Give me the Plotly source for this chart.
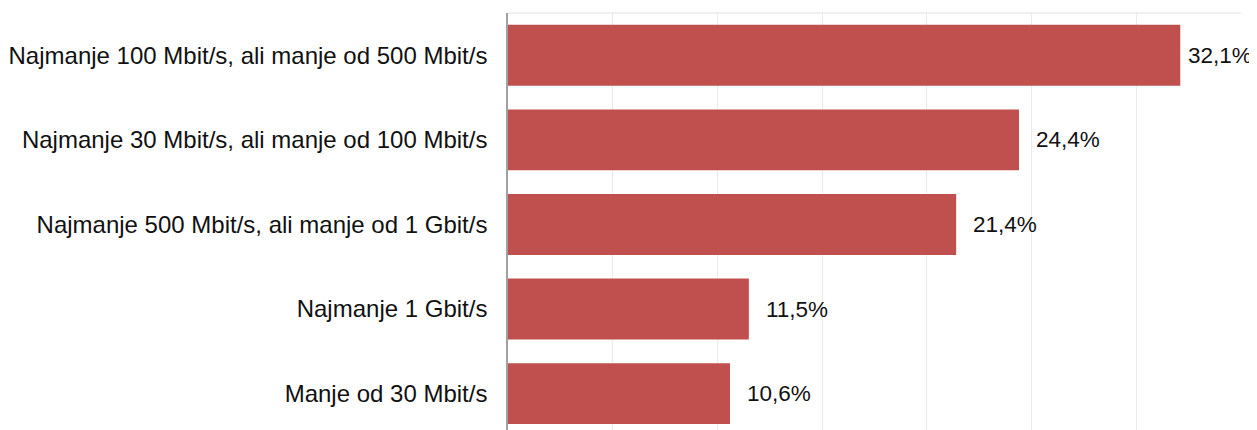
import plotly.graph_objects as go

categories = [
    "Najmanje 100 Mbit/s, ali manje od 500 Mbit/s",
    "Najmanje 30 Mbit/s, ali manje od 100 Mbit/s",
    "Najmanje 500 Mbit/s, ali manje od 1 Gbit/s",
    "Najmanje 1 Gbit/s",
    "Manje od 30 Mbit/s",
]
values = [32.1, 24.4, 21.4, 11.5, 10.6]
labels = [f"{v:.1f}%".replace(".", ",") for v in values]

FONT = "Liberation Sans, Arial, sans-serif"

fig = go.Figure(go.Bar(
    x=values, y=categories, orientation="h",
    marker=dict(color="#C0504D", line=dict(width=0)),
    hoverinfo="skip",
))

vmax = max(values)
for c, v, t in zip(categories, values, labels):
    fig.add_annotation(
        x=v, y=c, text=t, showarrow=False, xanchor="left", yanchor="middle",
        xshift=(6 if v == vmax else 15),
        font=dict(family=FONT, size=22.5, color="#111111"),
    )

fig.add_shape(type="line", xref="paper", yref="paper", x0=0, x1=1, y0=1, y1=1,
              line=dict(color="#ebebeb", width=1.5), layer="below")

fig.update_layout(
    width=1249, height=422,
    margin=dict(l=500, r=16, t=5, b=0, pad=0),
    paper_bgcolor="white", plot_bgcolor="white",
    bargap=0.28,
    showlegend=False,
    font=dict(family=FONT, size=24, color="#111111"),
    xaxis=dict(range=[0, 35], dtick=5, showticklabels=False, showgrid=True,
               gridcolor="#ebebeb", gridwidth=1, zeroline=False, showline=False,
               fixedrange=True),
    yaxis=dict(categoryorder="array", categoryarray=categories,
               range=[4.43, -0.5], showgrid=False, zeroline=False,
               showline=True, linecolor="#a0a0a0", linewidth=1.5,
               ticks="", ticklabelstandoff=14,
               tickfont=dict(family=FONT, size=24, color="#111111")),
)

fig.write_html("out.html")
